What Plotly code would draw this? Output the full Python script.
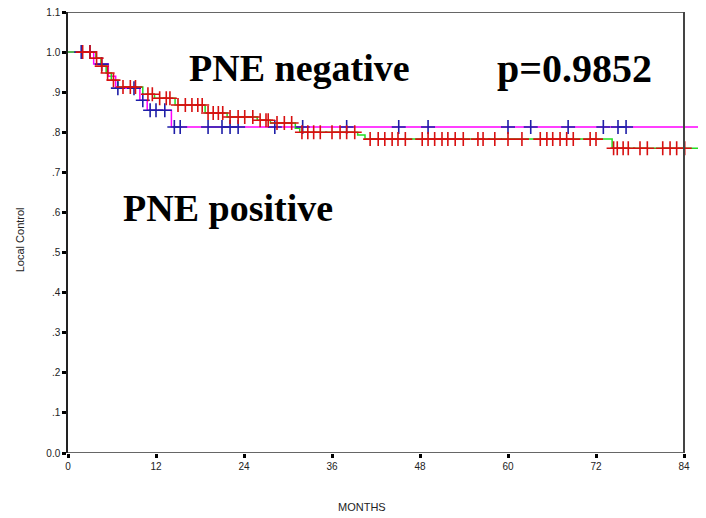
import plotly.graph_objects as go

# ---- data ----
neg_event_times = [0, 3.8, 4.5, 5.2, 5.9, 6.8, 10.2, 11.8, 14.6, 18.7, 21.7, 25.8, 27.6, 31.0, 31.6, 39.5, 40.5, 74.2]
neg_surv = [1.0, 0.985, 0.965, 0.948, 0.93, 0.913, 0.895, 0.885, 0.868, 0.848, 0.838, 0.83, 0.823, 0.81, 0.80, 0.793, 0.783, 0.76]
neg_censor = [2.0, 3.0, 3.9, 4.6, 5.4, 6.2, 7.5, 8.5, 9.2, 10.9, 11.5, 12.5, 13.4, 13.9, 15.0, 16.0, 16.9,
              17.7, 18.3, 19.1, 19.8, 20.5, 21.1, 22.1, 23.2, 24.1, 25.2, 26.2, 27.0, 27.3, 28.5, 29.5, 30.5,
              31.9, 32.7, 33.5, 34.4, 36.0, 37.1, 38.0, 39.1, 41.2, 42.3, 43.2, 44.2, 45.0, 46.0, 48.3, 49.1,
              50.0, 51.0, 51.8, 52.8, 53.9, 55.9, 56.6, 58.2, 60.0, 61.9, 64.4, 65.3, 66.1, 67.1, 68.0, 68.9,
              71.2, 72.0, 74.4, 74.9, 75.7, 76.4, 78.0, 79.0, 81.1, 82.1, 83.0, 84.1]

pos_event_times = [0, 3.5, 5.5, 6.5, 9.8, 10.8, 14.1]
pos_surv = [1.0, 0.97, 0.94, 0.91, 0.88, 0.855, 0.813]
pos_censor = [1.8, 3.0, 4.6, 6.8, 9.0, 10.2, 11.2, 12.0, 13.2, 14.5, 15.3, 19.1, 21.0, 22.1, 23.2, 28.2,
              32.0, 38.0, 45.1, 49.1, 60.0, 63.1, 68.2, 73.0, 75.0, 76.1]

follow_up_end = 88.0

x_tickvals = [0, 12, 24, 36, 48, 60, 72, 84]
y_tickvals = [0.0, 0.1, 0.2, 0.3, 0.4, 0.5, 0.6, 0.7, 0.8, 0.9, 1.0, 1.1]
y_ticktext = ["0.0", ".1", ".2", ".3", ".4", ".5", ".6", ".7", ".8", ".9", "1.0", "1.1"]


def surv_at(t, times, surv):
    s = surv[0]
    for tt, ss in zip(times, surv):
        if tt <= t:
            s = ss
    return s


fig = go.Figure()

# step lines
fig.add_trace(go.Scatter(x=pos_event_times + [follow_up_end], y=pos_surv + [pos_surv[-1]],
                         mode="lines", line=dict(color="#FF00FF", width=1.5, shape="hv"),
                         name="PNE positive", showlegend=False))
fig.add_trace(go.Scatter(x=neg_event_times + [follow_up_end], y=neg_surv + [neg_surv[-1]],
                         mode="lines", line=dict(color="#22DD22", width=1.5, shape="hv"),
                         name="PNE negative", showlegend=False))
# censor marks
fig.add_trace(go.Scatter(x=pos_censor, y=[surv_at(t, pos_event_times, pos_surv) for t in pos_censor],
                         mode="markers",
                         marker=dict(symbol="cross-thin", size=10, line=dict(color="#1E1EA8", width=1.6)),
                         showlegend=False))
fig.add_trace(go.Scatter(x=neg_censor, y=[surv_at(t, neg_event_times, neg_surv) for t in neg_censor],
                         mode="markers",
                         marker=dict(symbol="cross-thin", size=10, line=dict(color="#D81010", width=1.6)),
                         showlegend=False))

# frame (bottom, top, right)
frame = dict(color="#333333", width=1.5)
fig.add_shape(type="line", x0=0, x1=84, y0=0, y1=0, xref="x", yref="y", line=frame)
fig.add_shape(type="line", x0=0, x1=84, y0=1.1, y1=1.1, xref="x", yref="y", line=frame)
fig.add_shape(type="line", x0=84, x1=84, y0=0, y1=1.1, xref="x", yref="y", line=dict(color="#444444", width=2))

big = dict(family="Liberation Serif, Times New Roman, serif", size=38, color="black")
fig.add_annotation(x=31.5, y=0.96, text="<b>PNE negative</b>", showarrow=False, font=big)
fig.add_annotation(x=69.1, y=0.96, text="<b>p=0.9852</b>", showarrow=False,
                   font=dict(family="Liberation Serif, Times New Roman, serif", size=40, color="black"))
fig.add_annotation(x=21.8, y=0.611, text="<b>PNE positive</b>", showarrow=False, font=big)

small = dict(family="Liberation Sans, Arial, sans-serif", size=11, color="#222222")
fig.add_annotation(x=40.1, xref="x", y=-0.122, yref="paper", yanchor="middle", xanchor="center",
                   text="MONTHS", showarrow=False, font=small)
fig.add_annotation(x=-0.075, xref="paper", y=0.531, yref="y", xanchor="center", yanchor="middle",
                   text="Local Control", textangle=-90, showarrow=False, font=small)

fig.update_layout(
    width=706, height=518,
    margin=dict(l=60, r=8, t=4, b=73, autoexpand=False),
    paper_bgcolor="white", plot_bgcolor="white",
    xaxis=dict(range=[0, 87], tickvals=x_tickvals, ticktext=[str(v) for v in x_tickvals],
               showline=False, showgrid=False, zeroline=False, ticks="outside", ticklen=4, tickwidth=3,
               tickcolor="black", ticklabeloverflow="allow", automargin=False,
               tickfont=dict(family="Liberation Sans, Arial, sans-serif", size=10, color="#222")),
    yaxis=dict(range=[0, 1.1], tickvals=y_tickvals, ticktext=y_ticktext,
               showline=True, linecolor="#222222", linewidth=1.5, showgrid=False, zeroline=False,
               ticks="outside", ticklen=4, tickwidth=3, tickcolor="black", ticklabeloverflow="allow",
               automargin=False,
               tickfont=dict(family="Liberation Sans, Arial, sans-serif", size=10, color="#222")),
)

fig.write_html("out.html")
